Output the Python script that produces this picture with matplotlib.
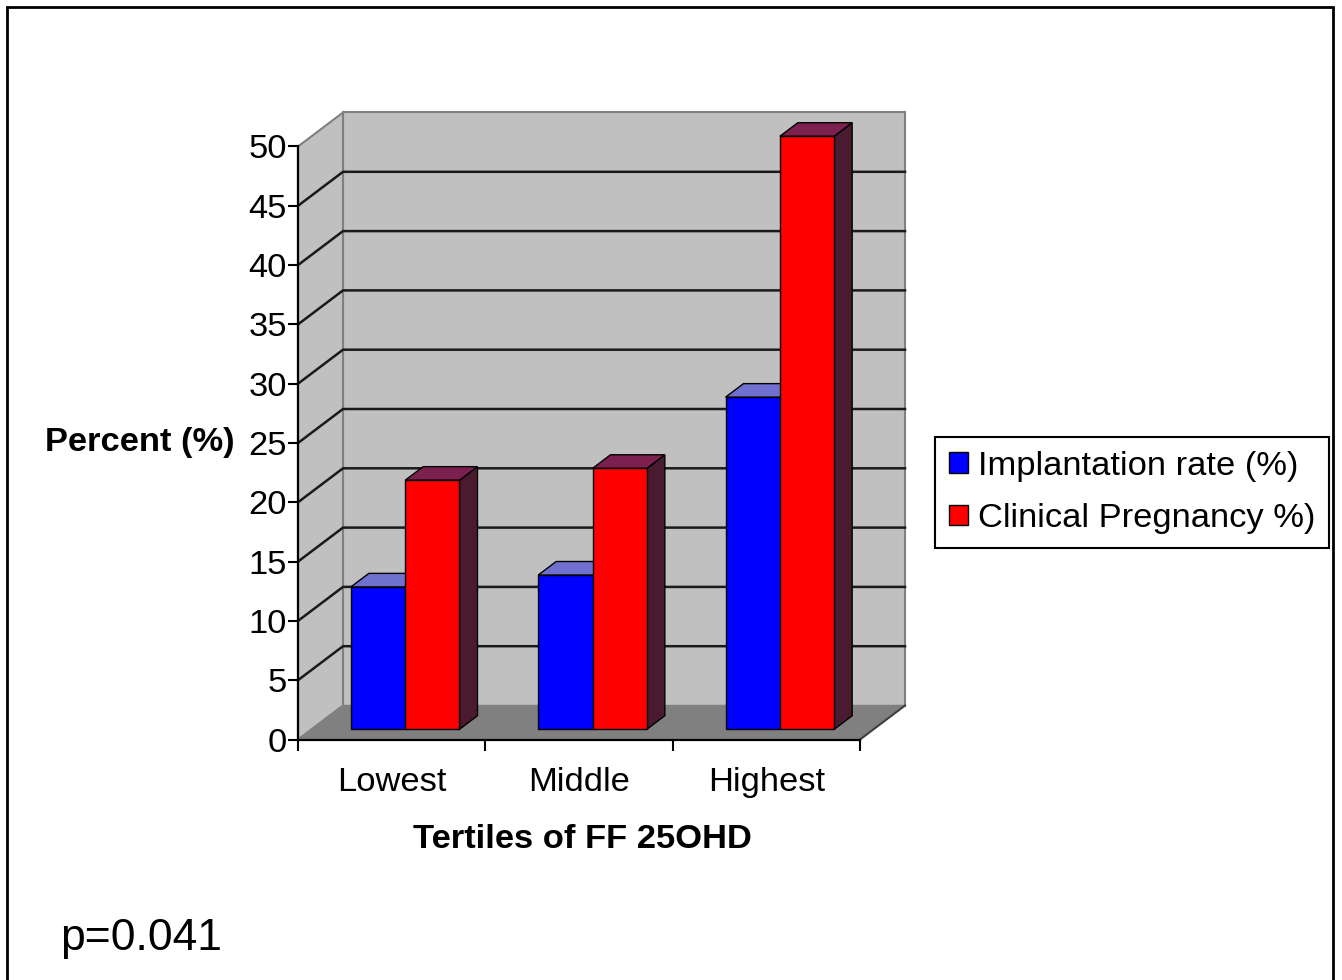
import matplotlib
matplotlib.use('Agg')
import matplotlib.pyplot as plt
from matplotlib.patches import Polygon, Rectangle, Patch

categories = ['Lowest', 'Middle', 'Highest']
implantation = [12, 13, 28]
clinical = [21, 22, 50]
series_names = ['Implantation rate (%)', 'Clinical Pregnancy %)']
yticks = list(range(0, 55, 5))

plt.rcParams['font.family'] = ['Liberation Sans', 'DejaVu Sans']
FS = 24.8

W, H = 1342, 980
fig = plt.figure(figsize=(W / 100, H / 100), dpi=100)
ax = fig.add_axes([298 / W, 1 - 739.5 / H, 562 / W, 593 / H])
ax.set_xlim(0, 3)
ax.set_ylim(0, 50)
ax.patch.set_visible(False)

# depth of the fake 3d box, in data units
DX, DY = 45 / 187.33, 34 / 11.86


def poly(pts, fc, ec='none', lw=0.0, z=1):
    ax.add_patch(Polygon(pts, closed=True, facecolor=fc, edgecolor=ec,
                         linewidth=lw, clip_on=False, zorder=z))


# walls and floor
poly([(DX, DY), (3 + DX, DY), (3 + DX, 50 + DY), (DX, 50 + DY)], '#c0c0c0', '#808080', 1.5)
poly([(0, 0), (DX, DY), (DX, 50 + DY), (0, 50)], '#c0c0c0', '#808080', 1.5)
poly([(0, 0), (3, 0), (3 + DX, DY), (DX, DY)], '#808080', '#808080', 1.0)
ax.plot([3, 3 + DX], [0, DY], color='#404040', lw=1.5, clip_on=False, zorder=1.2)

for v in yticks[1:-1]:
    ax.plot([0, DX, 3 + DX], [v, v + DY, v + DY], color='#1a1a1a', lw=1.8,
            clip_on=False, zorder=1.5)

# bars
f0, f1 = 0.3, 0.7
w = 0.29
styles = [(implantation, '#0000ff', '#7070d0', '#3a2a70'),
          (clinical, '#ff0000', '#7c2050', '#4a1a30')]
for i in range(len(categories)):
    for j, (vals, front, top, side) in enumerate(styles):
        x0 = i + 0.5 - w + j * w
        x1 = x0 + w
        t = vals[i]
        ox, oy = f0 * DX, f0 * DY
        bx, by = f1 * DX, f1 * DY
        poly([(x1 + ox, oy), (x1 + bx, by), (x1 + bx, t + by), (x1 + ox, t + oy)], side, 'black', 1.0, 2)
        poly([(x0 + ox, t + oy), (x1 + ox, t + oy), (x1 + bx, t + by), (x0 + bx, t + by)], top, 'black', 1.0, 2)
        poly([(x0 + ox, oy), (x1 + ox, oy), (x1 + ox, t + oy), (x0 + ox, t + oy)], front, 'black', 1.0, 2)

# axes
for s in ['top', 'right']:
    ax.spines[s].set_visible(False)
for s in ['left', 'bottom']:
    ax.spines[s].set_linewidth(1.6)
ax.set_yticks(yticks)
ax.tick_params(axis='y', direction='out', length=7, width=1.5, labelsize=FS, pad=1)
ax.set_xticks([0, 1, 2, 3])
ax.set_xticklabels([])
ax.tick_params(axis='x', which='major', direction='out', length=8, width=1.5)
ax.set_xticks([0.5, 1.5, 2.5], minor=True)
ax.set_xticklabels(categories, minor=True)
ax.tick_params(axis='x', which='minor', length=0, pad=19.5, labelsize=FS)

ax.set_ylabel('Percent (%)', rotation=0, fontsize=FS, fontweight='bold',
              ha='right', va='center')
ax.yaxis.set_label_coords(-0.112, 0.5)
ax.set_xlabel('Tertiles of FF 25OHD', fontsize=FS, fontweight='bold', va='center')
ax.xaxis.set_label_coords(0.507, -0.168)

handles = [Patch(facecolor='#0000ff', edgecolor='black', linewidth=1),
           Patch(facecolor='#ff0000', edgecolor='black', linewidth=1)]
leg = fig.legend(handles, series_names, loc='upper left',
                 bbox_to_anchor=(935 / W, 1 - 437 / H), fontsize=FS,
                 fancybox=False, edgecolor='black', framealpha=1,
                 borderaxespad=0, handlelength=0.55, handleheight=0.55,
                 handletextpad=0.3, labelspacing=0.62, borderpad=0.4)
leg.get_frame().set_linewidth(1.5)

fig.text(60 / W, 1 - 938 / H, 'p=0.041', fontsize=32, ha='left', va='center')

# outer frame (open at the bottom)
fig.add_artist(Rectangle((7 / W, -0.05), (1333 - 7) / W, 1.05 - 7 / H,
                         transform=fig.transFigure, fill=False,
                         edgecolor='black', linewidth=2))

fig.savefig('out.png', dpi=100)
